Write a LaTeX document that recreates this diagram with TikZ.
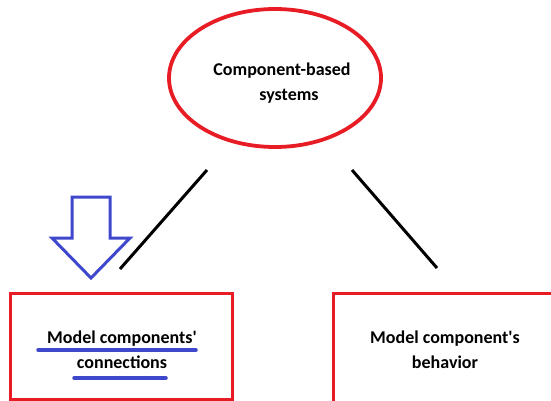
\documentclass[tikz,border=0pt]{standalone}
\usepackage{fontspec}
\setmainfont{Carlito}
\usetikzlibrary{positioning,shapes.geometric}
\definecolor{boxred}{RGB}{232,28,36}
\definecolor{markblue}{RGB}{63,72,204}
\tikzstyle{lbl}=[font=\fontsize{18}{25}\selectfont\bfseries, align=center, text=black]
\tikzstyle{styEll}=[ellipse, draw=boxred, line width=3.8pt, minimum width=212pt, minimum height=138pt]
\tikzstyle{styBox}=[rectangle, draw=boxred, line width=3pt, minimum height=106pt]
\tikzstyle{myline}=[line width=3pt, black]
\tikzstyle{mymark}=[line width=3.5pt, markblue, line cap=round]

\begin{document}
\begin{tikzpicture}[x=1pt,y=-1pt]
\useasboundingbox (0,0) rectangle (551,401);

\node[styEll] (ellSys) at (275,78) {};
\node[lbl] (txtSys) at (282,83) {Component-based\\ \hspace*{14pt}systems};

\node[styBox, minimum width=222pt] (boxConn) at (121,346) {};
\node[styBox, minimum width=223pt, minimum height=112pt] (boxBehav) at (444.5,349) {};
\node[lbl] (txtConn) at (122,350) {Model components\textquotesingle\\connections};
\node[lbl] (txtBehav) at (445,350) {Model component\textquotesingle s\\behavior};

% connectors
\coordinate (lnLa) at (207,170);
\coordinate (lnLb) at (120,269);
\coordinate (lnRa) at (352,170);
\coordinate (lnRb) at (437,268);
\draw[myline] (lnLa) -- (lnLb);
\draw[myline] (lnRa) -- (lnRb);

% arrow and underlines
\draw[markblue, line width=3pt, line join=miter]
  (72,197) -- (110,197) -- (110,238) -- (130,238) -- (91,278)
  -- (52,238) -- (72,238) -- cycle;
\draw[mymark] (38,350) -- (196,350);
\draw[mymark] (74,378) -- (166,378);

\end{tikzpicture}
\end{document}
